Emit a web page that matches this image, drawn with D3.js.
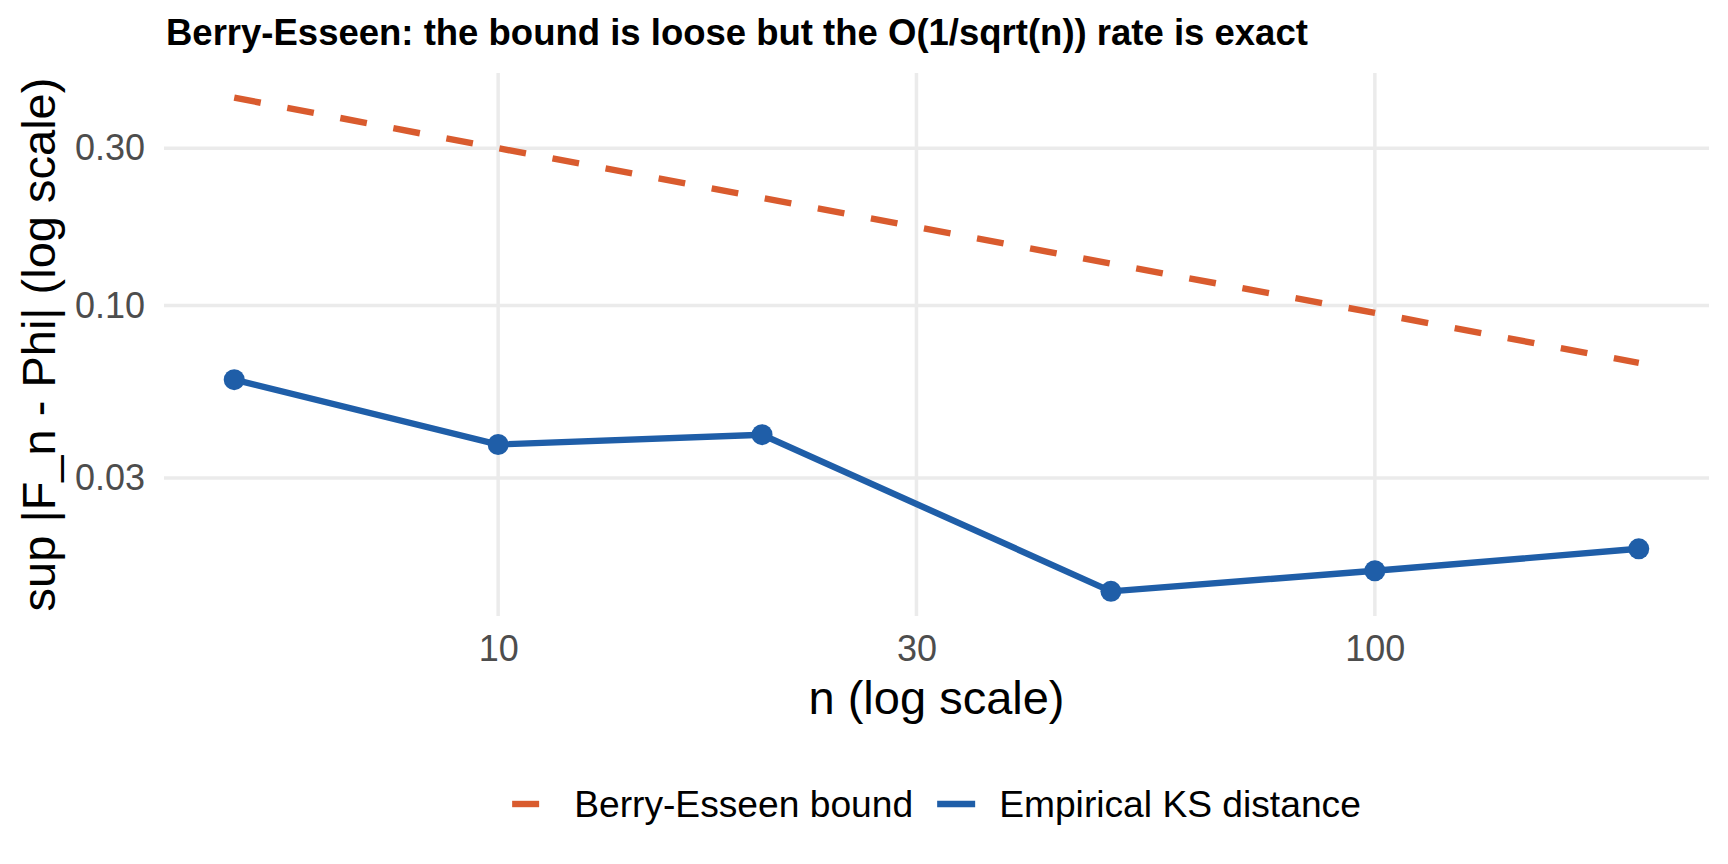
<!DOCTYPE html>
<html>
<head>
<meta charset="utf-8">
<script src="https://cdn.jsdelivr.net/npm/d3@7"></script>
<style>
  body { margin: 0; background: #fff; }
  text { font-family: "Liberation Sans", Arial, Helvetica, sans-serif; }
</style>
</head>
<body>
<div id="chart"></div>
<script>
// values
const sampleSizes = [5, 10, 20, 50, 100, 200];
const boundValues = [0.427, 0.300, 0.212, 0.134, 0.095, 0.067];
const empiricalValues = [0.0596, 0.0379, 0.0406, 0.0136, 0.0157, 0.0183];
const xTicks = [10, 30, 100];
const yTicks = [0.03, 0.1, 0.3];
const seriesNames = ["Berry-Esseen bound", "Empirical KS distance"];
const seriesColors = ["#D95B2E", "#1F5EA8"];

let width = 1728,
    height = 864,
    margin = {top: 73, right: 19, bottom: 248, left: 164},
    lineWidth = 6.4;

// ggplot-style 5% expansion on a log axis
function expandLog(ext) {
    let a = Math.log10(ext[0]), b = Math.log10(ext[1]), p = (b - a) * 0.05;
    return [Math.pow(10, a - p), Math.pow(10, b + p)];
}

let x = d3.scaleLog()
    .domain(expandLog(d3.extent(sampleSizes)))
    .range([margin.left, width - margin.right]);

let y = d3.scaleLog()
    .domain(expandLog(d3.extent(boundValues.concat(empiricalValues))))
    .range([height - margin.bottom, margin.top]);

let svg = d3.select("#chart").append("svg")
    .attr("width", width)
    .attr("height", height);

// grid
svg.append("g").selectAll("line.hgrid")
    .data(yTicks)
    .enter().append("line")
    .attr("x1", x.range()[0])
    .attr("x2", x.range()[1])
    .attr("y1", d => y(d))
    .attr("y2", d => y(d))
    .style("stroke", "#EBEBEB")
    .style("stroke-width", 3.5);

svg.append("g").selectAll("line.vgrid")
    .data(xTicks)
    .enter().append("line")
    .attr("x1", d => x(d))
    .attr("x2", d => x(d))
    .attr("y1", y.range()[0])
    .attr("y2", y.range()[1])
    .style("stroke", "#EBEBEB")
    .style("stroke-width", 3.5);

// axes (labels only)
let xAxis = svg.append("g")
    .attr("transform", "translate(0," + y.range()[0] + ")")
    .call(d3.axisBottom(x).tickValues(xTicks).tickFormat(d3.format("d")).tickSize(0).tickPadding(19.5));

let yAxis = svg.append("g")
    .attr("transform", "translate(" + x.range()[0] + ",0)")
    .call(d3.axisLeft(y).tickValues(yTicks).tickFormat(d3.format(".2f")).tickSize(0).tickPadding(19));

[xAxis, yAxis].forEach(function(g) {
    g.select(".domain").remove();
    g.selectAll("text")
        .attr("font-size", 36)
        .attr("font-family", null)
        .style("fill", "#4D4D4D");
});

// series
let line = d3.line()
    .x((d, i) => x(sampleSizes[i]))
    .y(d => y(d));

svg.append("path")
    .datum(boundValues)
    .attr("d", line)
    .style("fill", "none")
    .style("stroke", seriesColors[0])
    .style("stroke-width", lineWidth)
    .style("stroke-dasharray", "27,27");

svg.append("path")
    .datum(empiricalValues)
    .attr("d", line)
    .style("fill", "none")
    .style("stroke", seriesColors[1])
    .style("stroke-width", lineWidth);

svg.selectAll(".empDot")
    .data(empiricalValues)
    .enter().append("circle")
    .attr("class", "empDot")
    .attr("r", 10.5)
    .attr("cx", (d, i) => x(sampleSizes[i]))
    .attr("cy", d => y(d))
    .style("fill", seriesColors[1]);

// titles
svg.append("text")
    .attr("x", 166)
    .attr("y", 45)
    .attr("font-size", 36.5)
    .attr("font-weight", "bold")
    .text("Berry-Esseen: the bound is loose but the O(1/sqrt(n)) rate is exact");

let panelMidX = (x.range()[0] + x.range()[1]) / 2,
    panelMidY = (y.range()[0] + y.range()[1]) / 2;

svg.append("text")
    .attr("x", panelMidX)
    .attr("y", 714)
    .attr("text-anchor", "middle")
    .attr("font-size", 47)
    .text("n (log scale)");

svg.append("text")
    .attr("transform", "translate(55," + panelMidY + ") rotate(-90)")
    .attr("text-anchor", "middle")
    .attr("font-size", 47)
    .text("sup |F_n - Phi| (log scale)");

// legend, centred under the panel
let keyLen = 38, keyGap = 24, itemGap = 24, legendY = 804;
let legend = svg.append("g");
let items = legend.selectAll("g")
    .data(seriesNames)
    .enter().append("g");

items.append("line")
    .attr("x1", 0)
    .attr("x2", keyLen)
    .attr("y1", legendY)
    .attr("y2", legendY)
    .style("stroke", (d, i) => seriesColors[i])
    .style("stroke-width", lineWidth)
    .style("stroke-dasharray", (d, i) => i === 0 ? "27,27" : null);

items.append("text")
    .attr("x", keyLen + keyGap)
    .attr("y", legendY)
    .attr("dy", "0.35em")
    .attr("font-size", 37.2)
    .text(d => d);

let offset = 0;
items.each(function() {
    let w = keyLen + keyGap + d3.select(this).select("text").node().getComputedTextLength();
    d3.select(this).attr("transform", "translate(" + offset + ",0)");
    offset += w + itemGap;
});
let totalW = offset - itemGap;
legend.attr("transform", "translate(" + (panelMidX - totalW / 2) + ",0)");
</script>
</body>
</html>
